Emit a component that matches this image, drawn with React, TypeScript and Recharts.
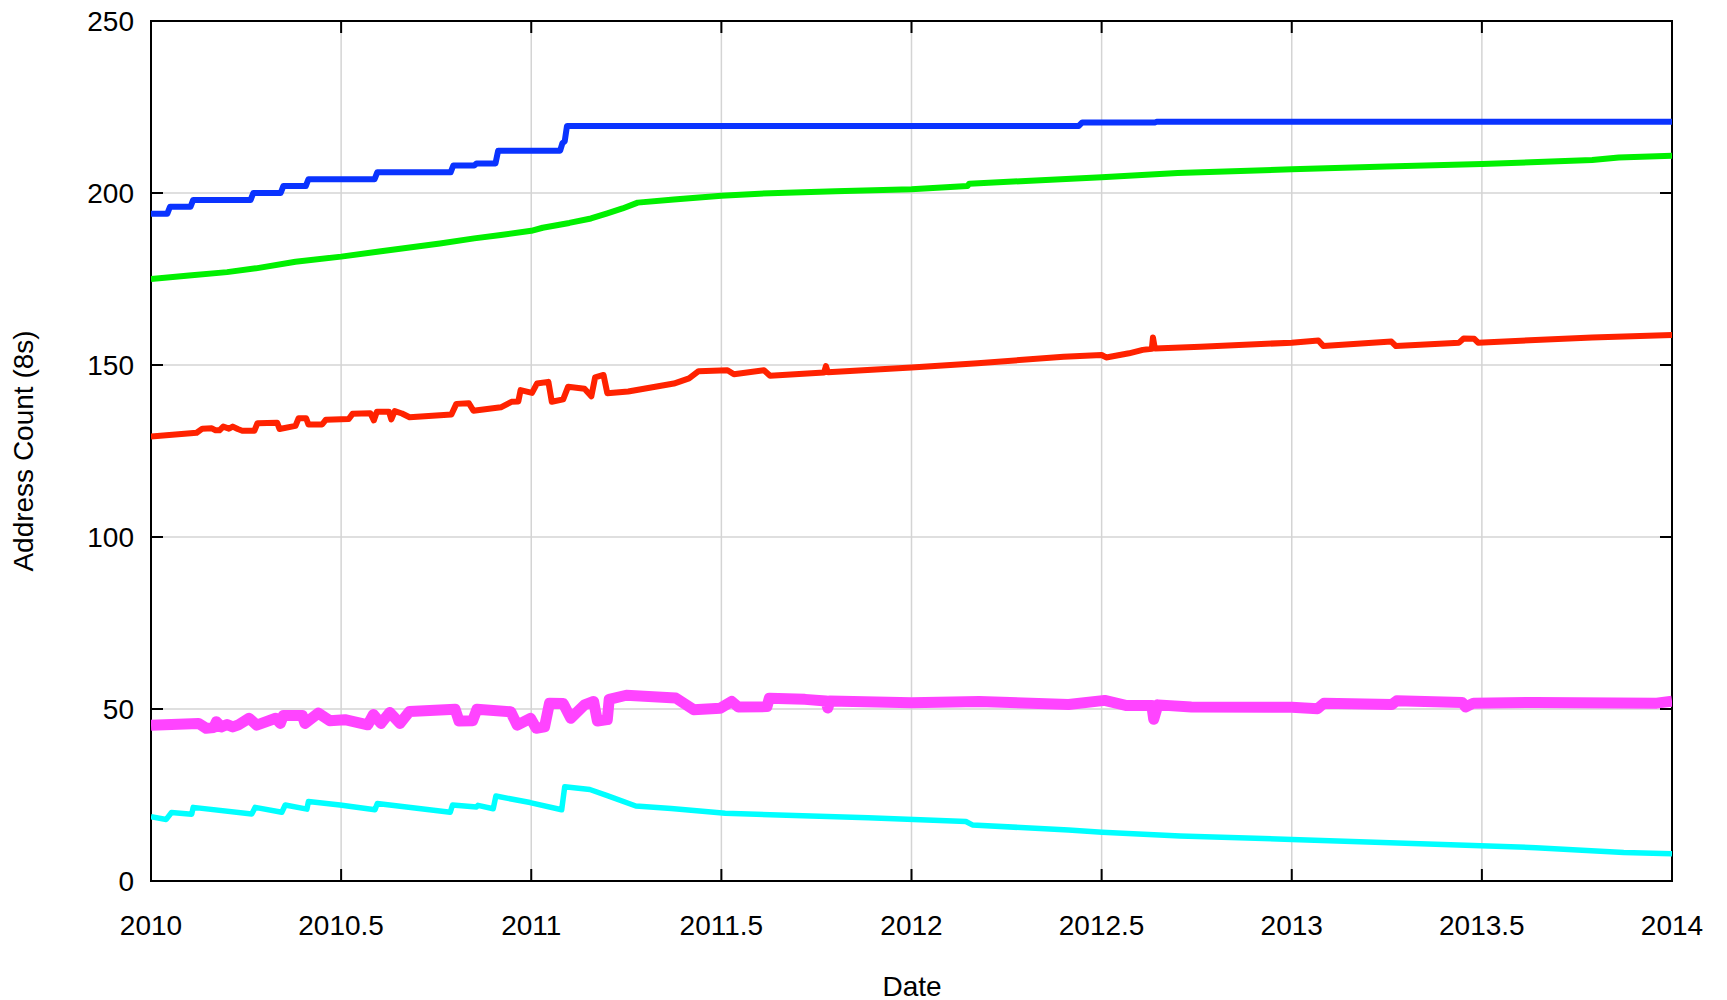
import { LineChart, Line, XAxis, YAxis, CartesianGrid, ReferenceArea } from 'recharts'

const xTicks = [2010, 2010.5, 2011, 2011.5, 2012, 2012.5, 2013, 2013.5, 2014]
const yTicks = [0, 50, 100, 150, 200, 250]

// [date, address count]
const blue: [number, number][] = [
  [2010.0, 194], [2010.043, 194], [2010.05, 196], [2010.104, 196], [2010.111, 198],
  [2010.262, 198], [2010.269, 200], [2010.341, 200], [2010.348, 202], [2010.407, 202],
  [2010.414, 204], [2010.588, 204], [2010.595, 206], [2010.788, 206], [2010.795, 208],
  [2010.85, 208], [2010.856, 208.6], [2010.906, 208.6], [2010.913, 212.3], [2011.076, 212.3],
  [2011.082, 214.5], [2011.088, 215], [2011.094, 219.5], [2012.44, 219.5], [2012.449, 220.5],
  [2012.64, 220.5], [2012.645, 220.7], [2014.0, 220.7]
]

const green: [number, number][] = [
  [2010.0, 175], [2010.1, 176], [2010.2, 177], [2010.276, 178.1], [2010.38, 180],
  [2010.5, 181.5], [2010.6, 183], [2010.76, 185.3], [2010.85, 186.8], [2010.92, 187.8],
  [2011.0, 189], [2011.03, 189.9], [2011.1, 191.3], [2011.157, 192.6], [2011.2, 194.1],
  [2011.24, 195.5], [2011.28, 197.2], [2011.375, 198.1], [2011.5, 199.2], [2011.6, 199.8],
  [2011.8, 200.5], [2012.0, 201.1], [2012.147, 202], [2012.152, 202.7], [2012.3, 203.5],
  [2012.5, 204.6], [2012.7, 205.8], [2013.0, 206.9], [2013.25, 207.7], [2013.5, 208.4],
  [2013.79, 209.6], [2013.86, 210.3], [2014.0, 210.8]
]

const red: [number, number][] = [
  [2010.0, 129.2], [2010.12, 130.3], [2010.135, 131.5], [2010.16, 131.6], [2010.17, 131],
  [2010.18, 131], [2010.19, 132.1], [2010.205, 131.5], [2010.215, 132.1], [2010.228, 131.4],
  [2010.24, 130.9], [2010.272, 130.9], [2010.28, 133.1], [2010.332, 133.2], [2010.338, 131.4],
  [2010.38, 132.3], [2010.388, 134.5], [2010.408, 134.5], [2010.414, 132.7], [2010.45, 132.7],
  [2010.46, 134.1], [2010.52, 134.3], [2010.53, 135.8], [2010.577, 136], [2010.586, 133.9],
  [2010.594, 136.4], [2010.626, 136.4], [2010.632, 134.2], [2010.641, 136.6], [2010.66, 135.9],
  [2010.68, 134.8], [2010.79, 135.6], [2010.803, 138.7], [2010.836, 138.9], [2010.848, 136.7],
  [2010.92, 137.7], [2010.948, 139.3], [2010.966, 139.4], [2010.972, 142.7], [2011.002, 141.9],
  [2011.015, 144.6], [2011.045, 145.1], [2011.054, 139.3], [2011.084, 140], [2011.097, 143.7],
  [2011.14, 143.1], [2011.158, 140.9], [2011.168, 146.4], [2011.19, 147.1], [2011.2, 141.8],
  [2011.255, 142.3], [2011.375, 144.6], [2011.415, 146.1], [2011.44, 148.2], [2011.516, 148.5],
  [2011.533, 147.3], [2011.612, 148.5], [2011.628, 146.9], [2011.77, 147.8], [2011.775, 149.7],
  [2011.78, 147.9], [2012.0, 149.3], [2012.174, 150.5], [2012.4, 152.4], [2012.5, 152.9],
  [2012.512, 152.2], [2012.572, 153.4], [2012.608, 154.4], [2012.632, 154.7], [2012.635, 158],
  [2012.64, 154.8], [2012.76, 155.3], [2013.0, 156.5], [2013.07, 157.1], [2013.083, 155.5],
  [2013.262, 156.8], [2013.274, 155.5], [2013.44, 156.5], [2013.452, 157.7], [2013.48, 157.6],
  [2013.49, 156.5], [2013.79, 158], [2014.0, 158.7]
]

const magenta: [number, number][] = [
  [2010.0, 45.3], [2010.125, 45.8], [2010.145, 44.4], [2010.165, 44.6], [2010.172, 46.3],
  [2010.185, 44.8], [2010.2, 45.5], [2010.215, 44.8], [2010.23, 45.4], [2010.258, 47.3],
  [2010.278, 45.3], [2010.328, 47.3], [2010.34, 45.8], [2010.348, 48.1], [2010.398, 48.1],
  [2010.405, 45.8], [2010.44, 48.8], [2010.47, 46.6], [2010.51, 46.9], [2010.57, 45.4],
  [2010.585, 48.4], [2010.605, 45.8], [2010.628, 49], [2010.655, 45.8], [2010.68, 49.3],
  [2010.8, 49.9], [2010.81, 46.5], [2010.846, 46.6], [2010.857, 49.9], [2010.946, 49.2],
  [2010.963, 45.3], [2010.998, 47.3], [2011.013, 44.4], [2011.035, 44.8], [2011.048, 51.7],
  [2011.084, 51.6], [2011.104, 47.3], [2011.14, 51.2], [2011.164, 52.2], [2011.174, 46.5],
  [2011.2, 46.9], [2011.205, 52.8], [2011.25, 54], [2011.38, 53.2], [2011.427, 49.8],
  [2011.497, 50.2], [2011.527, 52.2], [2011.544, 50.6], [2011.62, 50.7], [2011.626, 53.1],
  [2011.72, 52.8], [2011.775, 52.3], [2011.78, 50.3], [2011.785, 52.3], [2012.0, 51.8],
  [2012.178, 52.2], [2012.413, 51.3], [2012.508, 52.5], [2012.566, 51], [2012.632, 51],
  [2012.637, 47], [2012.648, 51.2], [2012.736, 50.6], [2013.0, 50.5], [2013.068, 50.1],
  [2013.085, 51.7], [2013.263, 51.3], [2013.276, 52.4], [2013.448, 51.9], [2013.457, 50.6],
  [2013.478, 51.7], [2013.642, 51.9], [2013.96, 51.7], [2014.0, 52.3]
]

const cyan: [number, number][] = [
  [2010.0, 18.7], [2010.04, 17.9], [2010.054, 19.9], [2010.107, 19.4], [2010.111, 21.4],
  [2010.265, 19.5], [2010.274, 21.4], [2010.344, 20], [2010.353, 22.1], [2010.41, 20.9],
  [2010.414, 23.1], [2010.497, 22.1], [2010.589, 20.7], [2010.595, 22.5], [2010.787, 20],
  [2010.793, 22.1], [2010.856, 21.5], [2010.86, 22], [2010.9, 21], [2010.907, 24.7],
  [2010.997, 22.8], [2011.08, 20.7], [2011.088, 27.4], [2011.154, 26.6], [2011.2, 24.8],
  [2011.275, 21.8], [2011.368, 21.1], [2011.51, 19.7], [2011.886, 18.4], [2012.143, 17.3],
  [2012.16, 16.3], [2012.413, 14.8], [2012.501, 14.2], [2012.706, 13.1], [2013.02, 12],
  [2013.642, 9.7], [2013.873, 8.3], [2014.0, 7.9]
]

const toRows = (pts: [number, number][]) => pts.map(([date, count]) => ({ date, count }))

const FONT = '"Liberation Sans", Arial, Helvetica, sans-serif'
const PLOT_LEFT = 151
const PLOT_RIGHT = 1672
const PLOT_TOP = 21
const PLOT_BOTTOM = 881

function XTick(props: any) {
  const { x, payload } = props
  return (
    <g>
      <line x1={x} x2={x} y1={PLOT_BOTTOM} y2={PLOT_BOTTOM - 12} stroke="#000" strokeWidth={2} />
      <line x1={x} x2={x} y1={PLOT_TOP} y2={PLOT_TOP + 12} stroke="#000" strokeWidth={2} />
      <text x={x} y={925} textAnchor="middle" dominantBaseline="central" fontSize={28} fontFamily={FONT} fill="#000">
        {payload.value}
      </text>
    </g>
  )
}

function YTick(props: any) {
  const { y, payload } = props
  return (
    <g>
      <line x1={PLOT_LEFT} x2={PLOT_LEFT + 12} y1={y} y2={y} stroke="#000" strokeWidth={2} />
      <line x1={PLOT_RIGHT - 12} x2={PLOT_RIGHT} y1={y} y2={y} stroke="#000" strokeWidth={2} />
      <text x={134} y={y} textAnchor="end" dominantBaseline="central" fontSize={28} fontFamily={FONT} fill="#000">
        {payload.value}
      </text>
    </g>
  )
}

export default function App() {
  const series = [
    { name: 'blue', pts: blue, color: '#0a33ff', width: 6 },
    { name: 'green', pts: green, color: '#00f000', width: 6 },
    { name: 'red', pts: red, color: '#ff2200', width: 6 },
    { name: 'magenta', pts: magenta, color: '#ff44ff', width: 11 },
    { name: 'cyan', pts: cyan, color: '#00ffff', width: 5.5 }
  ]

  return (
    <div style={{ position: 'absolute', left: 0, top: 0, width: 1727, height: 1000, background: '#fff' }}>
      <LineChart width={1727} height={1000} margin={{ top: 21, right: 55, left: 51, bottom: 59 }}>
        <CartesianGrid stroke="#d4d4d4" strokeWidth={1.5} />
        <XAxis
          dataKey="date"
          type="number"
          domain={[2010, 2014]}
          ticks={xTicks}
          interval={0}
          allowDataOverflow
          tick={<XTick />}
          tickLine={false}
          axisLine={false}
          height={60}
        />
        <YAxis
          type="number"
          domain={[0, 250]}
          ticks={yTicks}
          interval={0}
          allowDataOverflow
          tick={<YTick />}
          tickLine={false}
          axisLine={false}
          width={100}
        />
        {series.map((s) => (
          <Line
            key={s.name}
            data={toRows(s.pts)}
            dataKey="count"
            type="linear"
            stroke={s.color}
            strokeWidth={s.width}
            strokeLinejoin="round"
            dot={false}
            activeDot={false}
            isAnimationActive={false}
          />
        ))}
        <ReferenceArea x1={2010} x2={2014} y1={0} y2={250} fill="none" fillOpacity={0} stroke="#000" strokeWidth={2} />
      </LineChart>
      <div
        style={{
          position: 'absolute',
          left: 24,
          top: 451,
          transform: 'translate(-50%, -50%) rotate(-90deg)',
          whiteSpace: 'nowrap',
          fontFamily: FONT,
          fontSize: 28,
          color: '#000'
        }}
      >
        Address Count (8s)
      </div>
      <div
        style={{
          position: 'absolute',
          left: 912,
          top: 987,
          transform: 'translate(-50%, -50%)',
          whiteSpace: 'nowrap',
          fontFamily: FONT,
          fontSize: 28,
          color: '#000'
        }}
      >
        Date
      </div>
    </div>
  )
}
